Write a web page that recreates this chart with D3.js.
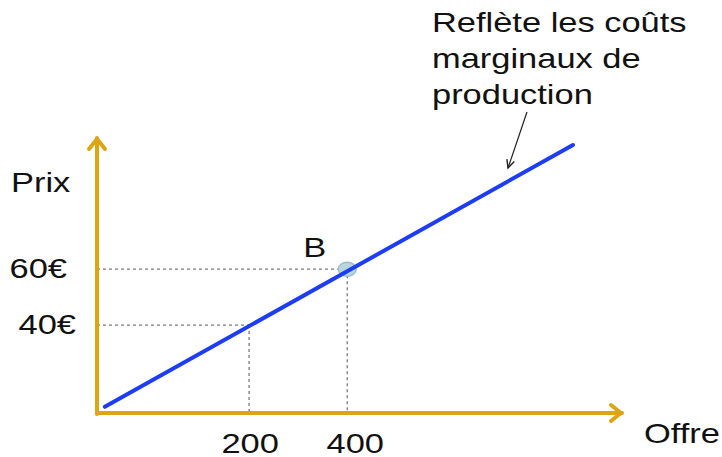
<!DOCTYPE html>
<html>
<head>
<meta charset="utf-8">
<script src="https://cdn.jsdelivr.net/npm/d3@7"></script>
<style>
  html, body { margin: 0; padding: 0; background: #fff; }
  svg { display: block; }
  text { font-family: "Liberation Sans", Arial, sans-serif; fill: #111; }
</style>
</head>
<body>
<svg id="chart" width="722" height="457"></svg>
<script>
// supply curve end points (quantity, price)
const supplyQ = [-94, 860]
const supplyP = [10.7, 104.5]
// marked points on the curve
const markQ = [200, 400]
const markP = [40, 60]
// tick labels
const qLabels = ['200', '400']
const pLabels = ['40€', '60€']
// point label
const pointName = 'B'
// axis titles and note
const xTitle = 'Offre'
const yTitle = 'Prix'
const noteLines = ['Reflète les coûts', 'marginaux de', 'production']

function makeChart() {
  const svg = d3.select('#chart')
  const gold = '#dba514'
  const stretch = 1.23

  // scales (axis box goes from origin to arrow tips)
  const x = d3.scaleLinear().domain([-110, 960]).range([97, 622])
  const y = d3.scaleLinear().domain([8.5, 107]).range([413, 138])

  // helper for horizontally stretched text
  function label(txt, px, py, anchor) {
    const t = svg.append('text')
      .attr('transform', `translate(${px},${py}) scale(${stretch},1)`)
      .attr('font-size', 28)
      .attr('text-anchor', anchor || 'start')
      .text(txt)
    return t
  }

  // dashed guide lines
  const guides = svg.append('g')
    .attr('stroke', '#7a7a7a')
    .attr('stroke-width', 1.3)
    .attr('stroke-dasharray', '3,3')
    .attr('fill', 'none')
  markQ.forEach((q, i) => {
    guides.append('line')
      .attr('x1', x.range()[0]).attr('x2', x(q))
      .attr('y1', y(markP[i])).attr('y2', y(markP[i]))
    guides.append('line')
      .attr('x1', x(q)).attr('x2', x(q))
      .attr('y1', y(markP[i])).attr('y2', y.range()[0])
  })

  // axes
  const axes = svg.append('g')
    .attr('stroke', gold)
    .attr('stroke-width', 4)
    .attr('fill', 'none')
    .attr('stroke-linecap', 'round')
    .attr('stroke-linejoin', 'round')
  const x0 = x.range()[0], x1 = x.range()[1]
  const y0 = y.range()[0], y1 = y.range()[1]
  axes.append('line').attr('x1', x0).attr('y1', y0 + 1).attr('x2', x0).attr('y2', y1)
  axes.append('line').attr('x1', x0).attr('y1', y0).attr('x2', x1).attr('y2', y0)
  axes.append('path').attr('d', `M${x0 - 8},${y1 + 11}L${x0},${y1 + 1}L${x0 + 8},${y1 + 11}`)
  axes.append('path').attr('d', `M${x1 - 11},${y0 - 8}L${x1 - 1},${y0}L${x1 - 11},${y0 + 8}`)

  // point B marker (under the line)
  svg.append('ellipse')
    .attr('cx', x(markQ[1]))
    .attr('cy', y(markP[1]))
    .attr('rx', 9)
    .attr('ry', 7)
    .attr('fill', '#b9d6dc')
    .attr('stroke', '#9dbfc8')
    .attr('stroke-width', 1.5)

  // supply line
  const line = d3.line().x(d => x(d[0])).y(d => y(d[1]))
  svg.append('path')
    .datum(supplyQ.map((q, i) => [q, supplyP[i]]))
    .attr('d', line)
    .attr('fill', 'none')
    .attr('stroke', '#1c3cf5')
    .attr('stroke-width', 4)
    .attr('stroke-linecap', 'round')

  // x tick labels
  const qShift = [1, 8]
  markQ.forEach((q, i) => label(qLabels[i], x(q) + qShift[i], 453, 'middle'))
  // y tick labels
  const pRight = [76, 67]
  markP.forEach((p, i) => label(pLabels[i], pRight[i], y(p) + 9, 'end'))

  // titles
  label(yTitle, 11, 192)
  label(xTitle, 644, 443)
  label(pointName, x(markQ[1]) - 44, y(markP[1]) - 12)

  // note text
  noteLines.forEach((s, i) => label(s, 432, 32 + i * 36))

  // note arrow
  const ax1 = 527, ay1 = 112, ax2 = 508, ay2 = 168
  svg.append('line')
    .attr('x1', ax1).attr('y1', ay1).attr('x2', ax2).attr('y2', ay2)
    .attr('stroke', '#222').attr('stroke-width', 1.2)
  const ang = Math.atan2(ay2 - ay1, ax2 - ax1)
  const hl = 9, ha = 0.45
  svg.append('path')
    .attr('d', `M${ax2 - hl * Math.cos(ang - ha)},${ay2 - hl * Math.sin(ang - ha)}L${ax2},${ay2}L${ax2 - hl * Math.cos(ang + ha)},${ay2 - hl * Math.sin(ang + ha)}`)
    .attr('fill', 'none')
    .attr('stroke', '#222')
    .attr('stroke-width', 1.4)
}

window.onload = makeChart
</script>
</body>
</html>
